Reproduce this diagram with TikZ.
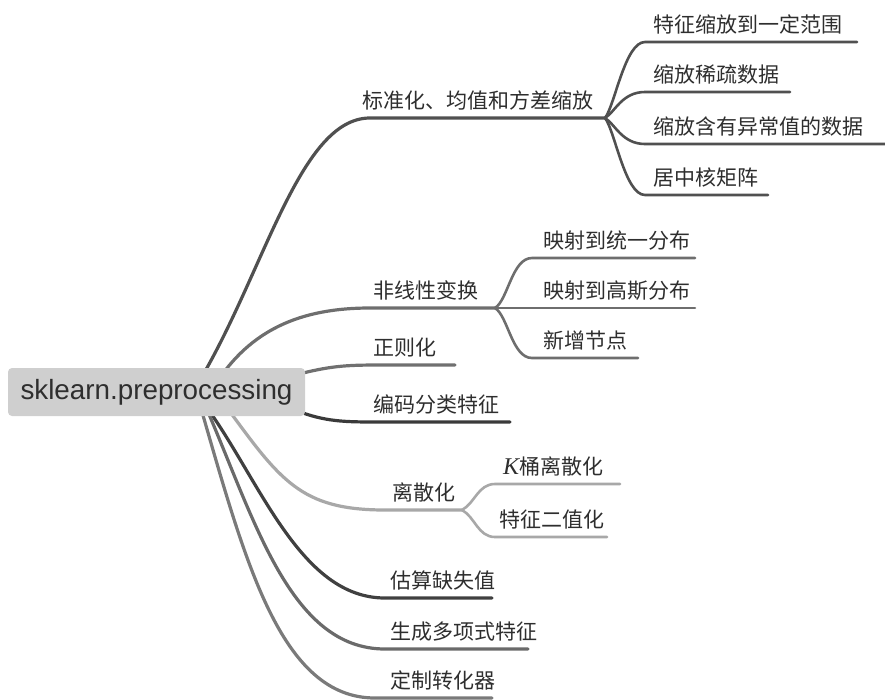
\documentclass[tikz,border=0pt]{standalone}
\usepackage{fontspec}
\setmainfont{Liberation Sans}
\newfontfamily\cjk{Noto Sans CJK SC}
\newfontfamily\kserif{Liberation Serif}
\usetikzlibrary{backgrounds}
\definecolor{cA}{HTML}{505050}
\definecolor{cB}{HTML}{6E6E6E}
\definecolor{cC}{HTML}{707070}
\definecolor{cD}{HTML}{3A3A3A}
\definecolor{cE}{HTML}{A8A8A8}
\definecolor{cF}{HTML}{404040}
\definecolor{cG}{HTML}{6A6A6A}
\definecolor{cH}{HTML}{7A7A7A}
\definecolor{rootfill}{HTML}{CFCFCF}
\definecolor{txt}{HTML}{2E2E2E}
\tikzset{
  rootbox/.style={fill=rootfill, rounded corners=4pt, minimum width=297pt, minimum height=48pt,
    inner sep=0pt, text=txt, font=\fontsize{27.8}{32}\selectfont},
  label/.style={anchor=base west, inner sep=0pt, text=txt, font=\cjk\fontsize{21}{25}\selectfont},
  lvone/.style={line width=3.2pt, line cap=round},
  lvtwo/.style={line width=2.6pt, line cap=round},
}
\begin{document}
\begin{tikzpicture}[x=1pt,y=-1pt]
\useasboundingbox (0,0) rectangle (885,699);
\node[rootbox] (root) at (156.5,392) {sklearn.preprocessing};

% curve starts inside root
\coordinate (r1) at (200,380);
\coordinate (r2) at (215,385);
\coordinate (r3) at (295,375);
\coordinate (r4) at (295,410);
\coordinate (r5) at (225,405);
\coordinate (r6) at (205,405);
\coordinate (r7) at (205,405);
\coordinate (r8) at (200,405);

% level-1 line ends
\coordinate (t1a) at (370,118); \coordinate (t1b) at (605,118);
\coordinate (t2a) at (370,308); \coordinate (t2b) at (495,308);
\coordinate (t3a) at (380,365); \coordinate (t3b) at (455,365);
\coordinate (t4a) at (380,422); \coordinate (t4b) at (510,422);
\coordinate (t5a) at (385,510); \coordinate (t5b) at (462,510);
\coordinate (t6a) at (385,598); \coordinate (t6b) at (492,598);
\coordinate (t7a) at (385,649); \coordinate (t7b) at (528,649);
\coordinate (t8a) at (375,698); \coordinate (t8b) at (492,698);

% level-2 line ends
\coordinate (s1a) at (645,42);  \coordinate (s1b) at (857,42);
\coordinate (s2a) at (645,92);  \coordinate (s2b) at (790,92);
\coordinate (s3a) at (645,144); \coordinate (s3b) at (885,144);
\coordinate (s4a) at (645,195); \coordinate (s4b) at (768,195);
\coordinate (n1a) at (532,258); \coordinate (n1b) at (695,258);
\coordinate (n2b) at (695,308);
\coordinate (n3a) at (532,358); \coordinate (n3b) at (638,358);
\coordinate (d1a) at (495,484); \coordinate (d1b) at (620,484);
\coordinate (d2a) at (495,537); \coordinate (d2b) at (607,537);

\begin{scope}[on background layer]
\draw[lvone, cA] (r1) .. controls (265,270) and (300,118) .. (t1a) -- (t1b);
\draw[lvone, cB] (r2) .. controls (250,330) and (300,308) .. (t2a) -- (t2b);
\draw[lvone, cC] (r3) .. controls (330,366) and (345,365) .. (t3a) -- (t3b);
\draw[lvone, cD] (r4) .. controls (325,422) and (345,422) .. (t4a) -- (t4b);
\draw[lvone, cE] (r5) .. controls (280,480) and (300,510) .. (t5a) -- (t5b);
\draw[lvone, cF] (r6) .. controls (260,480) and (300,598) .. (t6a) -- (t6b);
\draw[lvone, cG] (r7) .. controls (255,520) and (290,649) .. (t7a) -- (t7b);
\draw[lvone, cH] (r8) .. controls (245,560) and (280,698) .. (t8a) -- (t8b);
\end{scope}

\draw[lvtwo, cA] (t1b) .. controls (615,105) and (625,42) .. (s1a) -- (s1b);
\draw[lvtwo, cA] (t1b) .. controls (615,112) and (622,92) .. (s2a) -- (s2b);
\draw[lvtwo, cA] (t1b) .. controls (615,124) and (622,144) .. (s3a) -- (s3b);
\draw[lvtwo, cA] (t1b) .. controls (615,131) and (625,195) .. (s4a) -- (s4b);

\draw[lvtwo, cB] (t2b) .. controls (508,300) and (512,258) .. (n1a) -- (n1b);
\draw[lvtwo, cB] (t2b) -- (n2b);
\draw[lvtwo, cB] (t2b) .. controls (508,316) and (512,358) .. (n3a) -- (n3b);

\draw[lvtwo, cE] (t5b) .. controls (475,503) and (478,484) .. (d1a) -- (d1b);
\draw[lvtwo, cE] (t5b) .. controls (475,517) and (478,537) .. (d2a) -- (d2b);

% labels
\node[label] (l1) at (362,108) {标准化、均值和方差缩放};
\node[label] (l2) at (373,298) {非线性变换};
\node[label] (l3) at (373,355) {正则化};
\node[label] (l4) at (373,412) {编码分类特征};
\node[label] (l5) at (392,500) {离散化};
\node[label] (l6) at (390,588) {估算缺失值};
\node[label] (l7) at (390,639) {生成多项式特征};
\node[label] (l8) at (390,688) {定制转化器};

\node[label] (m1) at (653,32)  {特征缩放到一定范围};
\node[label] (m2) at (653,82)  {缩放稀疏数据};
\node[label] (m3) at (653,134) {缩放含有异常值的数据};
\node[label] (m4) at (653,185) {居中核矩阵};

\node[label] (k1) at (543,248) {映射到统一分布};
\node[label] (k2) at (543,298) {映射到高斯分布};
\node[label] (k3) at (543,348) {新增节点};

\node[label] (q1) at (503,474) {{\kserif\itshape\fontsize{24}{25}\selectfont K}桶离散化};
\node[label] (q2) at (499,527) {特征二值化};
\end{tikzpicture}
\end{document}
